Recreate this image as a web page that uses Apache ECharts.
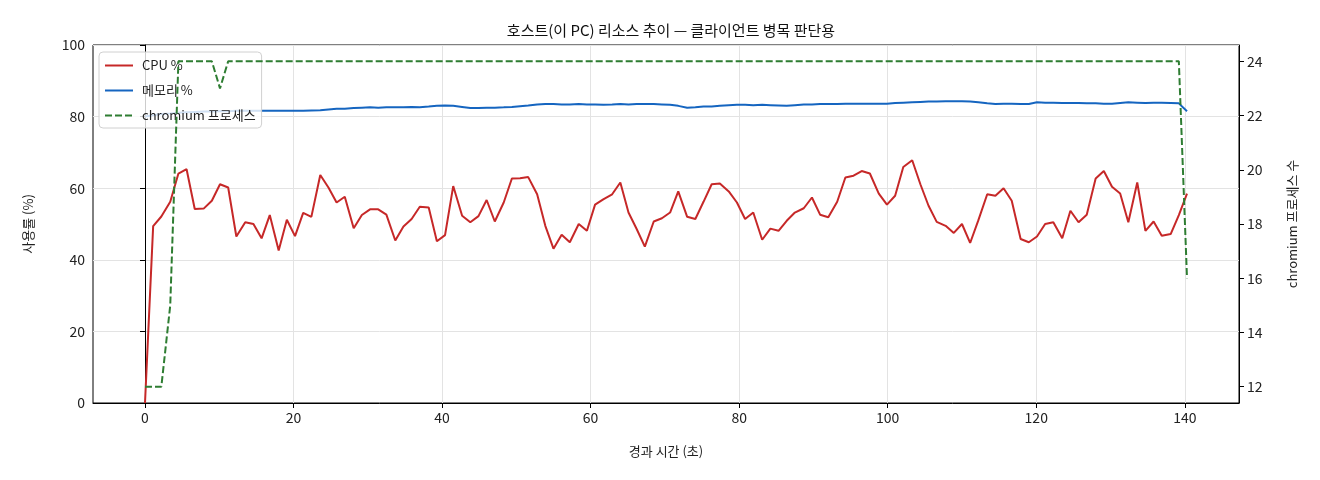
<!DOCTYPE html>
<html>
<head>
<meta charset="utf-8">
<title>호스트 리소스 추이</title>
<script src="https://cdn.jsdelivr.net/npm/echarts@6.0.0/dist/echarts.min.js"></script>
<style>
    html, body { margin: 0; padding: 0; background: #fff; }
    #chart { width: 1320px; height: 480px; }
</style>
</head>
<body>
<div id="chart"></div>
<script>
// 경과 시간 (초)
var elapsedSec = [
    0.0, 1.1, 2.2, 3.4, 4.5, 5.6, 6.7, 7.9, 9.0, 10.1,
    11.2, 12.3, 13.5, 14.6, 15.7, 16.8, 18.0, 19.1, 20.2, 21.3,
    22.4, 23.6, 24.7, 25.8, 26.9, 28.1, 29.2, 30.3, 31.4, 32.5,
    33.7, 34.8, 35.9, 37.0, 38.2, 39.3, 40.4, 41.5, 42.7, 43.8,
    44.9, 46.0, 47.1, 48.3, 49.4, 50.5, 51.6, 52.8, 53.9, 55.0,
    56.1, 57.2, 58.4, 59.5, 60.6, 61.7, 62.9, 64.0, 65.1, 66.2,
    67.3, 68.5, 69.6, 70.7, 71.8, 73.0, 74.1, 75.2, 76.3, 77.4,
    78.6, 79.7, 80.8, 81.9, 83.1, 84.2, 85.3, 86.4, 87.5, 88.7,
    89.8, 90.9, 92.0, 93.2, 94.3, 95.4, 96.5, 97.6, 98.8, 99.9,
    101.0, 102.1, 103.3, 104.4, 105.5, 106.6, 107.8, 108.9, 110.0, 111.1,
    112.2, 113.4, 114.5, 115.6, 116.7, 117.9, 119.0, 120.1, 121.2, 122.3,
    123.5, 124.6, 125.7, 126.8, 128.0, 129.1, 130.2, 131.3, 132.4, 133.6,
    134.7, 135.8, 136.9, 138.1, 139.2, 140.3
];

var cpuPct = [
    0, 49.4, 52.1, 56.2, 64.1, 65.3, 54.2, 54.3, 56.5, 61.1,
    60.2, 46.5, 50.5, 50.0, 46.0, 52.5, 42.6, 51.2, 46.6, 53.1,
    52.0, 63.7, 60.2, 56.0, 57.6, 48.8, 52.5, 54.1, 54.1, 52.6,
    45.4, 49.3, 51.4, 54.8, 54.6, 45.2, 46.9, 60.6, 52.3, 50.5,
    52.2, 56.7, 50.7, 56.0, 62.7, 62.8, 63.1, 58.3, 49.5, 43.1,
    47.0, 44.9, 50.0, 48.1, 55.4, 56.9, 58.3, 61.6, 53.2, 48.6,
    43.7, 50.7, 51.6, 53.2, 59.1, 52.0, 51.4, 56.2, 61.1, 61.3,
    59.1, 56.0, 51.4, 53.2, 45.6, 48.7, 48.1, 50.9, 53.2, 54.4,
    57.4, 52.6, 51.9, 56.2, 63.0, 63.5, 64.8, 64.1, 58.5, 55.4,
    57.9, 65.9, 67.8, 61.1, 55.1, 50.6, 49.5, 47.5, 50.0, 44.7,
    51.0, 58.3, 57.9, 60.0, 56.5, 45.8, 44.9, 46.5, 50.0, 50.5,
    46.0, 53.7, 50.5, 52.6, 62.7, 64.8, 60.4, 58.5, 50.5, 61.6,
    48.1, 50.7, 46.7, 47.2, 52.5, 58.5
];

var memPct = [
    80.0, 80.4, 80.7, 80.9, 81.1, 81.2, 81.3, 81.4, 81.4, 81.5,
    81.5, 81.6, 81.6, 81.6, 81.6, 81.6, 81.6, 81.6, 81.6, 81.6,
    81.7, 81.8, 82.0, 82.2, 82.2, 82.4, 82.5, 82.6, 82.5, 82.6,
    82.6, 82.6, 82.7, 82.6, 82.8, 83.0, 83.1, 83.0, 82.7, 82.4,
    82.4, 82.5, 82.5, 82.6, 82.7, 82.9, 83.1, 83.4, 83.5, 83.5,
    83.4, 83.4, 83.5, 83.4, 83.4, 83.3, 83.4, 83.5, 83.4, 83.5,
    83.5, 83.5, 83.4, 83.3, 83.0, 82.5, 82.6, 82.8, 82.8, 83.0,
    83.2, 83.3, 83.3, 83.2, 83.3, 83.2, 83.1, 83.0, 83.2, 83.4,
    83.4, 83.5, 83.5, 83.5, 83.6, 83.6, 83.6, 83.6, 83.6, 83.6,
    83.8, 83.9, 84.0, 84.1, 84.2, 84.2, 84.3, 84.3, 84.3, 84.2,
    84.0, 83.7, 83.5, 83.6, 83.6, 83.5, 83.5, 84.0, 83.9, 83.9,
    83.8, 83.8, 83.8, 83.7, 83.7, 83.6, 83.6, 83.8, 84.0, 83.9,
    83.8, 83.9, 83.9, 83.8, 83.7, 81.5
];

var chromiumProcs = [
    12, 12, 12, 15, 24, 24, 24, 24, 24, 23,
    24, 24, 24, 24, 24, 24, 24, 24, 24, 24,
    24, 24, 24, 24, 24, 24, 24, 24, 24, 24,
    24, 24, 24, 24, 24, 24, 24, 24, 24, 24,
    24, 24, 24, 24, 24, 24, 24, 24, 24, 24,
    24, 24, 24, 24, 24, 24, 24, 24, 24, 24,
    24, 24, 24, 24, 24, 24, 24, 24, 24, 24,
    24, 24, 24, 24, 24, 24, 24, 24, 24, 24,
    24, 24, 24, 24, 24, 24, 24, 24, 24, 24,
    24, 24, 24, 24, 24, 24, 24, 24, 24, 24,
    24, 24, 24, 24, 24, 24, 24, 24, 24, 24,
    24, 24, 24, 24, 24, 24, 24, 24, 24, 24,
    24, 24, 24, 24, 24, 16
];

var xTicks = [0, 20, 40, 60, 80, 100, 120, 140];
var procTicks = [12, 14, 16, 18, 20, 22, 24];

var FONT = "'Noto Sans CJK KR', 'Noto Sans', sans-serif";

function pairs(ys) {
    var out = [];
    for (var i = 0; i < ys.length; i++) {
        out.push([elapsedSec[i], ys[i]]);
    }
    return out;
}

var chart = echarts.init(document.getElementById('chart'), null, { renderer: 'canvas' });

var axisText = { color: '#222', fontFamily: FONT, fontSize: 14 };

chart.setOption({
    animation: false,
    textStyle: { fontFamily: FONT },
    title: {
        text: '호스트(이 PC) 리소스 추이 — 클라이언트 병목 판단용',
        left: 666,
        textAlign: 'center',
        top: 18,
        textStyle: { fontFamily: FONT, fontSize: 15, fontWeight: 'normal', color: '#111' }
    },
    grid: {
        left: 93, right: 81, top: 45, bottom: 77,
        show: true, borderColor: '#000', borderWidth: 1,
        backgroundColor: 'transparent'
    },
    legend: {
        left: 99, top: 52,
        orient: 'vertical',
        itemWidth: 28, itemHeight: 10, itemGap: 12,
        padding: [7, 6, 6, 5],
        backgroundColor: 'rgba(255,255,255,0.8)',
        borderColor: '#d0d0d0', borderWidth: 1, borderRadius: 4,
        // 범례 아이콘은 선만 보이도록 심볼 숨김
        itemStyle: { opacity: 0 },
        textStyle: { fontFamily: FONT, fontSize: 13, color: '#222', padding: [0, 0, 0, 4] },
        data: ['CPU %', '메모리 %', 'chromium 프로세스']
    },
    xAxis: {
        type: 'value',
        min: -7.0, max: 147.3,
        name: '경과 시간 (초)',
        nameLocation: 'middle',
        nameGap: 42,
        nameTextStyle: { fontFamily: FONT, fontSize: 13, color: '#222' },
        axisLine: { show: true, lineStyle: { color: '#000', width: 1 } },
        axisTick: { show: true, length: 5, customValues: xTicks, lineStyle: { color: '#000' } },
        axisLabel: Object.assign({ customValues: xTicks, margin: 8 }, axisText),
        splitLine: { show: true, lineStyle: { color: '#e3e3e3', width: 1 } }
    },
    yAxis: [{
        type: 'value',
        min: 0, max: 100, interval: 20,
        name: '사용률 (%)',
        nameLocation: 'middle',
        nameRotate: 90,
        nameGap: 58,
        nameTextStyle: { fontFamily: FONT, fontSize: 13, color: '#222' },
        axisLine: { show: true, lineStyle: { color: '#000', width: 1 } },
        axisTick: { show: true, length: 5, lineStyle: { color: '#000' } },
        axisLabel: Object.assign({ margin: 8 }, axisText),
        splitLine: { show: true, lineStyle: { color: '#e3e3e3', width: 1 } }
    }, {
        type: 'value',
        position: 'right',
        min: 11.4, max: 24.6,
        name: 'chromium 프로세스 수',
        nameLocation: 'middle',
        nameRotate: 90,
        nameGap: 47,
        nameTextStyle: { fontFamily: FONT, fontSize: 13, color: '#222' },
        axisLine: { show: true, lineStyle: { color: '#000', width: 1 } },
        axisTick: { show: true, length: 5, customValues: procTicks, lineStyle: { color: '#000' } },
        axisLabel: Object.assign({ customValues: procTicks, margin: 8 }, axisText),
        splitLine: { show: false }
    }],
    series: [{
        name: 'CPU %',
        type: 'line',
        yAxisIndex: 0,
        symbol: 'none',
        color: '#c62828',
        lineStyle: { width: 2 },
        data: pairs(cpuPct),
        z: 3
    }, {
        name: '메모리 %',
        type: 'line',
        yAxisIndex: 0,
        symbol: 'none',
        color: '#1565c0',
        lineStyle: { width: 2 },
        data: pairs(memPct),
        z: 3
    }, {
        name: 'chromium 프로세스',
        type: 'line',
        yAxisIndex: 1,
        symbol: 'none',
        color: '#2e7d32',
        lineStyle: { width: 2, type: [7, 3] },
        data: pairs(chromiumProcs),
        z: 4
    }]
});
</script>
</body>
</html>
